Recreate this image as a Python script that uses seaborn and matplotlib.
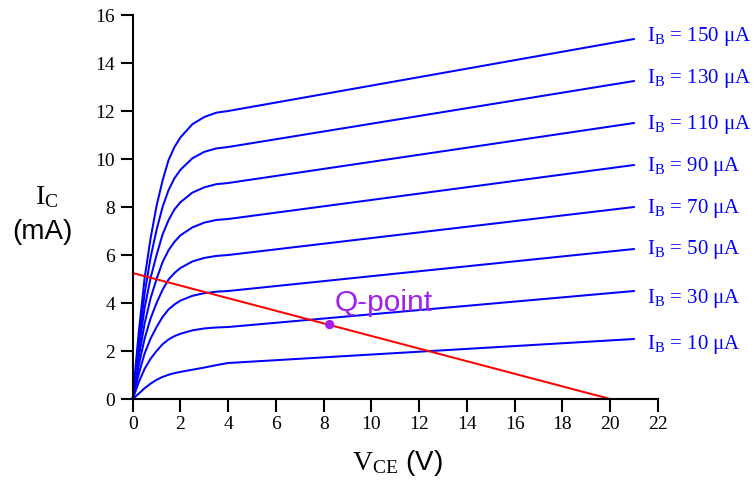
import matplotlib
matplotlib.use("Agg")
import matplotlib.pyplot as plt
import seaborn as sns
import pandas as pd

# ---- data ----
vce = [0, 0.25, 0.5, 0.75, 1, 1.25, 1.5, 1.75, 2, 2.5, 3, 3.5, 4, 21]
ib_labels = [150, 130, 110, 90, 70, 50, 30, 10]
ic_150 = [0, 2.75, 5.05, 6.7, 8.05, 9.1, 9.95, 10.5, 10.9, 11.45, 11.75, 11.93, 12.0, 15.0]
ic_130 = [0, 2.4, 4.4, 5.9, 7.05, 8.0, 8.7, 9.2, 9.55, 10.03, 10.3, 10.44, 10.5, 13.25]
ic_110 = [0, 2.05, 3.8, 5.05, 6.0, 6.85, 7.45, 7.9, 8.2, 8.6, 8.82, 8.95, 9.0, 11.5]
ic_90 = [0, 1.72, 3.15, 4.2, 5.0, 5.7, 6.2, 6.55, 6.82, 7.15, 7.35, 7.46, 7.5, 9.75]
ic_70 = [0, 1.38, 2.52, 3.36, 4.0, 4.55, 4.98, 5.25, 5.46, 5.73, 5.88, 5.96, 6.0, 8.0]
ic_50 = [0, 1.03, 1.9, 2.52, 3.0, 3.42, 3.73, 3.94, 4.1, 4.3, 4.41, 4.47, 4.5, 6.25]
ic_30 = [0, 0.69, 1.26, 1.68, 2.0, 2.28, 2.48, 2.62, 2.72, 2.86, 2.94, 2.98, 3.0, 4.5]
ic_10 = [0, 0.22, 0.45, 0.64, 0.8, 0.92, 1.01, 1.08, 1.13, 1.22, 1.31, 1.41, 1.5, 2.5]
curves = [ic_150, ic_130, ic_110, ic_90, ic_70, ic_50, ic_30, ic_10]
label_y = [15.1, 13.35, 11.45, 9.7, 7.95, 6.22, 4.18, 2.25]

load_v = [0, 20]
load_i = [5.25, 0]
q_v = [8.25]
q_i = [3.1]

x_ticks = list(range(0, 23, 2))
y_ticks = list(range(0, 17, 2))

# ---- style ----
sns.set_style("ticks")
plt.rcParams["font.family"] = ["Liberation Serif", "DejaVu Serif"]
plt.rcParams["mathtext.fontset"] = "custom"
plt.rcParams["mathtext.rm"] = "Liberation Serif"
plt.rcParams["mathtext.it"] = "Liberation Serif:italic"
plt.rcParams["text.color"] = "black"

rows = []
for ib, ic in zip(ib_labels, curves):
    for v, i in zip(vce, ic):
        rows.append({"VCE": v, "IC": i, "IB": ib})
df = pd.DataFrame(rows)

fig = plt.figure(figsize=(7.54, 4.84), dpi=100)
ax = fig.add_axes([132.7 / 754, 1 - 399 / 484, (658 - 132.7) / 754, (399 - 15) / 484])

sns.lineplot(data=df, x="VCE", y="IC", hue="IB", units="IB", estimator=None,
             sort=False, palette=["#0000ff"] * len(ib_labels), legend=False,
             linewidth=1.45, ax=ax, clip_on=False)

sns.lineplot(x=load_v, y=load_i, color="#ff0000", linewidth=1.45, ax=ax, clip_on=False)
sns.scatterplot(x=q_v, y=q_i, color="#a020f0", s=45, edgecolor="none", ax=ax,
                zorder=5, clip_on=False)
ax.text(q_v[0] + 0.2, q_i[0] + 0.55, "Q-point", color="#a020f0", fontsize=21.5,
        family=["Liberation Sans", "DejaVu Sans"], ha="left", va="baseline")

for ib, ly in zip(ib_labels, label_y):
    ax.text(21.55, ly, r"$\mathrm{I_B}$ = %d μA" % ib, color="#0000ff",
            fontsize=15, ha="left", va="center", clip_on=False)

ax.set_xlim(0, 22)
ax.set_ylim(0, 16)
ax.set_xticks(x_ticks)
ax.set_yticks(y_ticks)
ax.tick_params(axis="both", labelsize=14, length=9, width=1.5, color="black",
               labelcolor="black", direction="out")
for s in ["top", "right"]:
    ax.spines[s].set_visible(False)
for s in ["left", "bottom"]:
    ax.spines[s].set_linewidth(1.5)
    ax.spines[s].set_color("black")
ax.set_xlabel("")
ax.set_ylabel("")

fig.text(397 / 754, 1 - 463 / 484, r"$\mathrm{V_{CE}}$ (V)", fontsize=20,
         family=["Liberation Sans", "DejaVu Sans"], ha="center", va="center")
fig.text(47 / 754, 1 - 197 / 484, r"$\mathrm{I_C}$", fontsize=20,
         ha="center", va="center")
fig.text(42 / 754, 1 - 232 / 484, "(mA)", fontsize=20,
         family=["Liberation Sans", "DejaVu Sans"], ha="center", va="center")

fig.savefig("out.png", dpi=100)
